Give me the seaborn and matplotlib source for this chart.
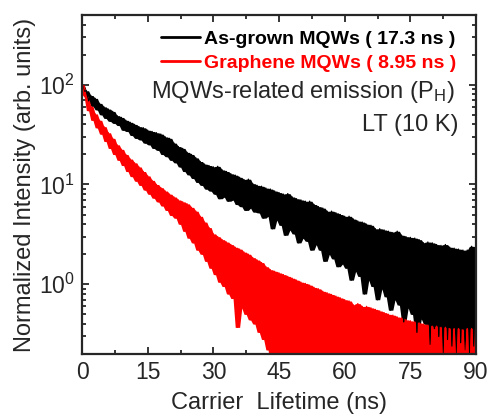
import numpy as np
import matplotlib
matplotlib.use("Agg")
import matplotlib.pyplot as plt
import seaborn as sns

# TRPL decay, 0.5 ns channels, normalized to 100 at t = 0
channel_ns = 0.5

asgrown_int = [
    100, 86, 87, 69, 78, 61, 73, 56, 65, 50,
    60, 46, 57, 43, 54, 41, 49, 39, 47, 35,
    44, 34, 42, 31, 40, 29, 38, 28, 37, 26,
    35, 25, 34, 23, 33, 22, 32, 20, 30, 19,
    29, 17.5, 26, 16.5, 24, 15, 23, 13.5, 21, 12.5,
    20, 11.5, 18.5, 10.5, 17, 9.8, 16, 9.0, 15.5, 8.6,
    15, 8.0, 15.2, 7.2, 14, 7.5, 13.5, 6.8, 12.8, 7.0,
    12.4, 6.3, 11.8, 6.0, 11.2, 5.5, 11.3, 5.8, 10.2, 5.3,
    9.8, 5.2, 9.6, 4.6, 9.2, 4.8, 9.0, 3.6, 8.6, 4.4,
    8.3, 3.9, 8.0, 3.1, 8.1, 3.5, 7.5, 3.2, 7.2, 2.6,
    7.0, 2.9, 6.8, 2.7, 6.8, 2.2, 6.3, 2.5, 6.0, 2.2,
    5.8, 1.7, 5.4, 2.0, 5.4, 1.8, 5.2, 1.5, 5.0, 1.6,
    4.8, 1.45, 4.8, 1.1, 4.5, 1.35, 4.3, 1.2, 4.2, 0.8,
    4.0, 1.1, 3.9, 0.95, 3.6, 0.7, 3.6, 0.9, 3.5, 0.75,
    3.4, 0.55, 3.3, 0.7, 3.4, 0.62, 3.1, 0.42, 3.0, 0.58,
    2.95, 0.5, 2.9, 0.33, 2.8, 0.45, 2.6, 0.4, 2.65, 0.25,
    2.6, 0.36, 2.5, 0.3, 2.45, 0.2, 2.5, 0.28, 2.35, 0.24,
    2.3, 0.15, 2.25, 0.26, 2.2, 0.22, 2.2, 0.18, 2.4, 0.24,
    2.35,
]

graphene_int = [
    100, 80, 75, 55, 61, 44, 51, 37, 44, 32,
    38, 27, 33, 23, 29, 20, 25, 17.5, 22.5, 15.5,
    20, 13.5, 18, 12, 16.5, 10.8, 15, 9.8, 13.5, 8.8,
    12.2, 8.0, 11, 7.3, 10, 6.7, 9.3, 6.1, 8.6, 5.5,
    8.0, 4.9, 7.5, 4.6, 7.0, 4.0, 6.7, 3.4, 6.4, 2.9,
    5.9, 2.6, 5.4, 2.2, 4.8, 2.0, 4.2, 1.7, 3.7, 1.45,
    3.2, 1.25, 3.0, 1.05, 2.8, 0.95, 2.65, 0.8, 2.5, 0.72,
    2.35, 0.37, 2.25, 0.58, 2.1, 0.5, 2.0, 0.44, 1.85, 0.4,
    1.75, 0.33, 1.65, 0.28, 1.5, 0.22, 1.4, 0.15, 1.35, 0.12,
    1.3, 0.16, 1.25, 0.1, 1.2, 0.14, 1.15, 0.1, 1.1, 0.13,
    1.05, 0.1, 1.02, 0.12, 0.98, 0.1, 0.93, 0.14, 0.9, 0.1,
    0.85, 0.12, 0.82, 0.1, 0.79, 0.13, 0.76, 0.1, 0.73, 0.12,
    0.7, 0.1, 0.68, 0.13, 0.62, 0.1, 0.64, 0.12, 0.6, 0.1,
    0.6, 0.12, 0.58, 0.1, 0.56, 0.13, 0.54, 0.1, 0.52, 0.12,
    0.5, 0.1, 0.49, 0.12, 0.47, 0.1, 0.46, 0.13, 0.44, 0.1,
    0.43, 0.12, 0.42, 0.1, 0.41, 0.13, 0.4, 0.1, 0.39, 0.12,
    0.38, 0.1, 0.38, 0.12, 0.37, 0.1, 0.37, 0.13, 0.36, 0.1,
    0.36, 0.12, 0.36, 0.1, 0.35, 0.13, 0.36, 0.1, 0.36, 0.12,
    0.36,
]

labels = ["As-grown MQWs ( 17.3 ns )", "Graphene MQWs ( 8.95 ns )"]
colors = ["black", "red"]
x_ticks = [0, 15, 30, 45, 60, 75, 90]

sns.set_style("ticks")
plt.rcParams["font.family"] = ["Liberation Sans", "DejaVu Sans"]
plt.rcParams["mathtext.fontset"] = "custom"
plt.rcParams["mathtext.rm"] = "Liberation Sans"
plt.rcParams["mathtext.it"] = "Liberation Sans:italic"

fig = plt.figure(figsize=(4.92, 4.16), dpi=100)
ax = fig.add_axes([0.1667, 0.149, 0.8008, 0.815])

time_ns = np.arange(len(asgrown_int)) * channel_ns


def noise_band(vals):
    # spread of neighbouring channels, so the noisy trace reads as a solid band
    v = np.asarray(vals, dtype=float)
    prev = np.r_[v[0], v[:-1]]
    nxt = np.r_[v[1:], v[-1]]
    return np.minimum(np.minimum(prev, v), nxt), np.maximum(np.maximum(prev, v), nxt)


for vals, lab, c in zip([asgrown_int, graphene_int], labels, colors):
    lo, hi = noise_band(vals)
    ax.fill_between(time_ns, lo, hi, color=c, lw=0)
    sns.lineplot(x=time_ns, y=vals, color=c, label=lab, lw=1.0,
                 estimator=None, ax=ax)

ax.set_yscale("log")
ax.set_xlim(0, 90)
ax.set_ylim(0.2, 500)
ax.set_xticks(x_ticks)
ax.set_xticks(np.array(x_ticks[:-1]) + 7.5, minor=True)

ax.set_xlabel("Carrier  Lifetime (ns)", fontsize=17, labelpad=6)
ax.set_ylabel("Normalized Intensity (arb. units)", fontsize=17, labelpad=2)

ax.tick_params(which="both", direction="in", top=True, right=True, width=1.3)
ax.tick_params(which="major", length=5, labelsize=16.5, pad=5)
ax.tick_params(which="minor", length=3)
for sp in ax.spines.values():
    sp.set_linewidth(1.6)

leg = ax.legend(loc="upper right", bbox_to_anchor=(0.95, 0.955), frameon=False,
                prop={"weight": "bold", "size": 14}, handlelength=2.0,
                handletextpad=0.2, labelspacing=0.35, borderpad=0, borderaxespad=0)
for txt, c in zip(leg.get_texts(), colors):
    txt.set_color(c)
for h in leg.get_lines():
    h.set_linewidth(2)

ax.text(0.945, 0.773, "MQWs-related emission (P$_\\mathrm{H}$)", transform=ax.transAxes,
        ha="right", va="center", fontsize=17)
ax.text(0.955, 0.676, "LT (10 K)", transform=ax.transAxes,
        ha="right", va="center", fontsize=17)

fig.savefig("out.png", dpi=100)
